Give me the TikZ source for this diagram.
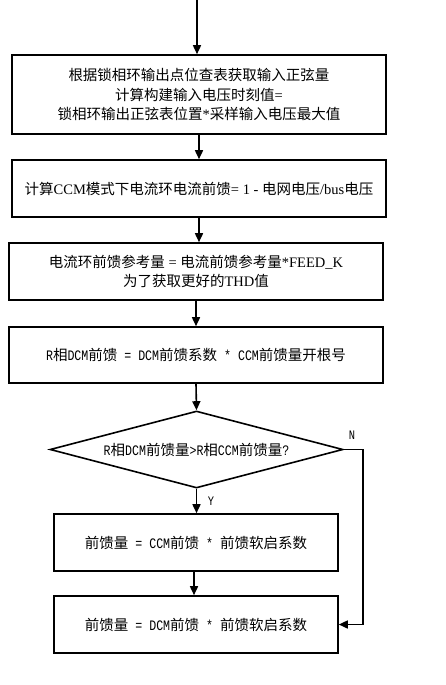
\documentclass[tikz,border=0pt]{standalone}
\usepackage{fontspec}
\setmainfont{Liberation Serif}
\newfontfamily\cjkf{Noto Sans CJK SC}
\newfontfamily\hwf[FakeStretch=0.8]{Liberation Mono}
\newcommand\zh[1]{{\cjkf #1}}
\newcommand\hwt[1]{{\hwf #1}}
\usetikzlibrary{arrows.meta,shapes.geometric}
\tikzset{
  box/.style={draw, line width=1.6pt, inner sep=0pt, align=center, font=\fontsize{14.5}{19.5}\selectfont},
  dia/.style={draw, line width=1.6pt, shape=diamond, inner sep=0pt, shape aspect=3.8, font=\fontsize{14.5}{19.5}\selectfont},
  flow/.style={line width=1.6pt, -{Triangle[length=9pt,width=8pt]}},
  lab/.style={font=\fontsize{13}{15}\selectfont\hwf, inner sep=0pt}
}
\begin{document}
\begin{tikzpicture}[x=1pt,y=-1pt]
\useasboundingbox (0,0) rectangle (446,685);
\node[box, minimum width=374, minimum height=79] (b1) at (199,94.5)
  {\zh{根据锁相环输出点位查表获取输入正弦量}\\\zh{计算构建输入电压时刻值}=\\\zh{锁相环输出正弦表位置}*\zh{采样输入电压最大值}};
\node[box, minimum width=374, minimum height=57] (b2) at (199,188.5)
  {\zh{计算}CCM\zh{模式下电流环电流前馈}= 1 - \zh{电网电压}/bus\zh{电压}};
\node[box, minimum width=374, minimum height=57] (b3) at (196,271.5)
  {\zh{电流环前馈参考量} = \zh{电流前馈参考量}*FEED\_K\\\zh{为了获取更好的}THD\zh{值}};
\node[box, minimum width=374, minimum height=56] (b4) at (196,355)
  {\hwt{R}\zh{相}\hwt{DCM}\zh{前馈}\hwt{ = DCM}\zh{前馈系数}\hwt{ * CCM}\zh{前馈量开根号}};
\node[dia, minimum width=293, minimum height=77] (d) at (196.5,449.5)
  {\hwt{R}\zh{相}\hwt{DCM}\zh{前馈量}\hwt{>R}\zh{相}\hwt{CCM}\zh{前馈量}\hwt{?}};
\node[box, minimum width=284, minimum height=57] (b5) at (196,542.5)
  {\zh{前馈量}\hwt{ = CCM}\zh{前馈}\hwt{ * }\zh{前馈软启系数}};
\node[box, minimum width=284, minimum height=57] (b6) at (196,624.5)
  {\zh{前馈量}\hwt{ = DCM}\zh{前馈}\hwt{ * }\zh{前馈软启系数}};
\coordinate (top) at (197,0);
\coordinate (nr) at (363,449.5);
\draw[flow] (top) -- (top |- b1.north);
\draw[flow] (b1.south) -- (b2.north);
\draw[flow] (b2.south) -- (b2.south |- b3.north);
\draw[flow] (b3.south) -- (b4.north);
\draw[flow] (b4.south) -- (d.north);
\draw[flow] (d.south) -- (d.south |- b5.north);
\draw[flow] ([xshift=-2pt]b5.south) -- ([xshift=-2pt]b6.north);
\draw[flow] (d.east) -- (nr) |- (b6.east);
\node[lab] (ylab) at (211,501) {Y};
\node[lab] (nlab) at (352,435) {N};
\end{tikzpicture}
\end{document}
